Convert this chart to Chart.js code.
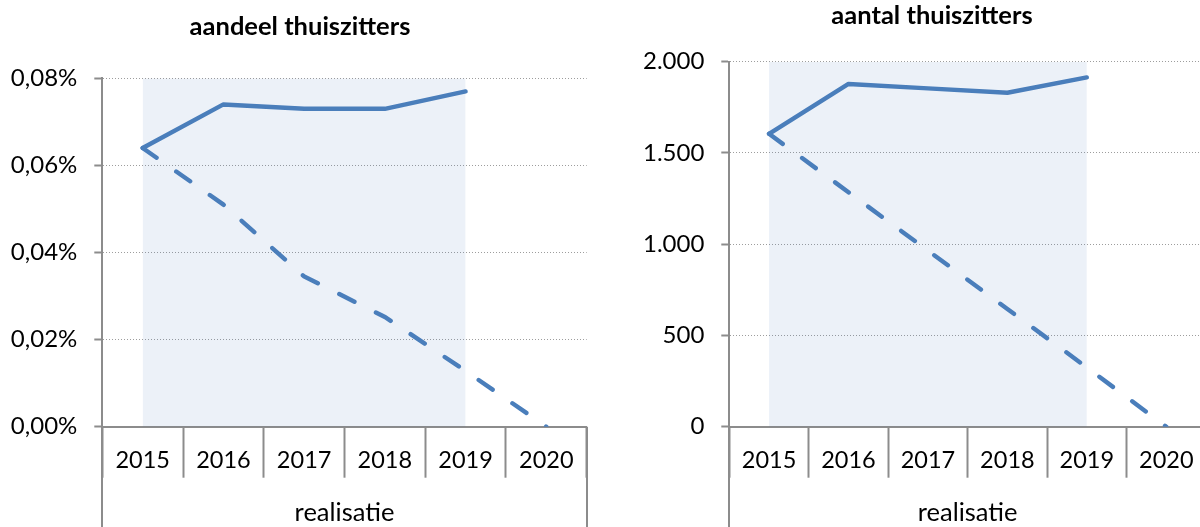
<!DOCTYPE html>
<html>
<head>
<meta charset="utf-8">
<script src="https://cdn.jsdelivr.net/npm/chart.js@4/dist/chart.umd.min.js"></script>
<style>
  html, body { margin: 0; padding: 0; background: #fff; }
  body { width: 1200px; height: 527px; overflow: hidden; position: relative; }
  canvas { position: absolute; top: 0; }
  #shareChart { left: 0; }
  #countChart { left: 600px; }
</style>
</head>
<body>
<canvas id="shareChart" width="600" height="527"></canvas>
<canvas id="countChart" width="664" height="527"></canvas>
<script>
// categories
const years = ['2015', '2016', '2017', '2018', '2019', '2020'];

// aandeel thuiszitters (values in %)
const shareReal   = [0.064, 0.074, 0.073, 0.073, 0.077, null];
const shareTarget = [0.064, 0.051, 0.0345, 0.0252, 0.0128, 0];
const shareBand   = [0.08, 0.08, 0.08, 0.08, 0.08, null];   // shaded "realisatie" period
const shareTicks  = [0, 0.02, 0.04, 0.06, 0.08];
const shareTickLabels = ['0,00%', '0,02%', '0,04%', '0,06%', '0,08%'];

// aantal thuiszitters
const countReal   = [1605, 1878, 1854, 1830, 1914, null];
const countTarget = [1605, 1285, 965, 645, 325, 0];
const countBand   = [2000, 2000, 2000, 2000, 2000, null];
const countTicks  = [0, 500, 1000, 1500, 2000];
const countTickLabels = ['0', '500', '1.000', '1.500', '2.000'];

const blue = '#4a7ebb';
const bandColor = 'rgba(79, 129, 189, 0.11)';
const axisGrey = '#8c8c8c';
const gridGrey = '#9d9d9d';

Chart.defaults.font.family = 'Lato, "Open Sans", sans-serif';
Chart.defaults.color = '#000';

// outer category separators run down to the bottom (under "realisatie")
const outerLines = {
    id: 'outerLines',
    afterLayout(chart) {
        // centre the title on the whole canvas, not just on the padded box
        const t = chart.titleBlock;
        t.left = 0;
        t.right = chart.width;
        t.width = chart.width;
    },
    afterDraw(chart) {
        const x = chart.scales.x;
        const ctx = chart.ctx;
        ctx.save();
        ctx.strokeStyle = axisGrey;
        ctx.lineWidth = 2;
        ctx.beginPath();
        [x.left, x.right].forEach(px => {
            ctx.moveTo(Math.round(px), x.top);
            ctx.lineTo(Math.round(px), chart.height);
        });
        ctx.stroke();
        ctx.restore();
    }
};

buildChart = (id, cfg) => {
    return new Chart(document.getElementById(id), {
        type: 'line',
        data: {
            labels: years,
            datasets: [
                {
                    data: cfg.band,
                    fill: 'origin',
                    backgroundColor: bandColor,
                    borderWidth: 0,
                    pointRadius: 0,
                    order: 3
                },
                {
                    data: cfg.real,
                    borderColor: blue,
                    borderWidth: 4.4,
                    borderCapStyle: 'round',
                    borderJoinStyle: 'round',
                    pointRadius: 0,
                    fill: false,
                    order: 1
                },
                {
                    data: cfg.target,
                    borderColor: blue,
                    borderWidth: 4.4,
                    borderDash: [17, 24],
                    borderCapStyle: 'round',
                    pointRadius: 0,
                    fill: false,
                    order: 2
                }
            ]
        },
        options: {
            responsive: false,
            animation: false,
            events: [],
            layout: { padding: { left: 0, right: cfg.padRight, top: 0, bottom: 0 } },
            plugins: {
                legend: { display: false },
                tooltip: { enabled: false },
                title: {
                    display: true,
                    text: cfg.title,
                    font: { size: 25.5, weight: 'bold' },
                    padding: cfg.titlePad
                }
            },
            scales: {
                x: {
                    offset: true,
                    grid: {
                        offset: true,
                        drawOnChartArea: false,
                        tickLength: 51,
                        tickColor: axisGrey,
                        tickWidth: 2
                    },
                    border: { display: true, color: axisGrey, width: 2 },
                    ticks: { font: { size: 23.5 }, padding: -31, maxRotation: 0, autoSkip: false },
                    title: {
                        display: true,
                        text: 'realisatie',
                        font: { size: 25.5 },
                        padding: { top: 0, bottom: -1 }
                    },
                    afterFit: s => { s.height = 100.3; }
                },
                y: {
                    min: cfg.ticks[0],
                    max: cfg.ticks[cfg.ticks.length - 1],
                    afterBuildTicks: s => { s.ticks = cfg.ticks.map(v => ({ value: v })); },
                    grid: {
                        color: gridGrey,
                        lineWidth: 1,
                        tickLength: 8,
                        tickColor: axisGrey,
                        tickWidth: 2,
                        tickBorderDash: []
                    },
                    border: { display: true, color: axisGrey, width: 2, dash: [1, 2] },
                    ticks: {
                        font: { size: 24 },
                        padding: 17,
                        callback: (v, i) => cfg.tickLabels[i]
                    },
                    afterFit: s => { s.width = cfg.yWidth; }
                }
            }
        },
        plugins: [outerLines]
    });
}

buildChart('shareChart', {
    title: 'aandeel thuiszitters',
    titlePad: { top: 11.7, bottom: 36 },
    yWidth: 102.3,
    padRight: 13.3,
    real: shareReal,
    target: shareTarget,
    band: shareBand,
    ticks: shareTicks,
    tickLabels: shareTickLabels
});

buildChart('countChart', {
    title: 'aantal thuiszitters',
    titlePad: { top: 0, bottom: 31.1 },
    yWidth: 129.3,
    padRight: 58,
    real: countReal,
    target: countTarget,
    band: countBand,
    ticks: countTicks,
    tickLabels: countTickLabels
});
</script>
</body>
</html>
